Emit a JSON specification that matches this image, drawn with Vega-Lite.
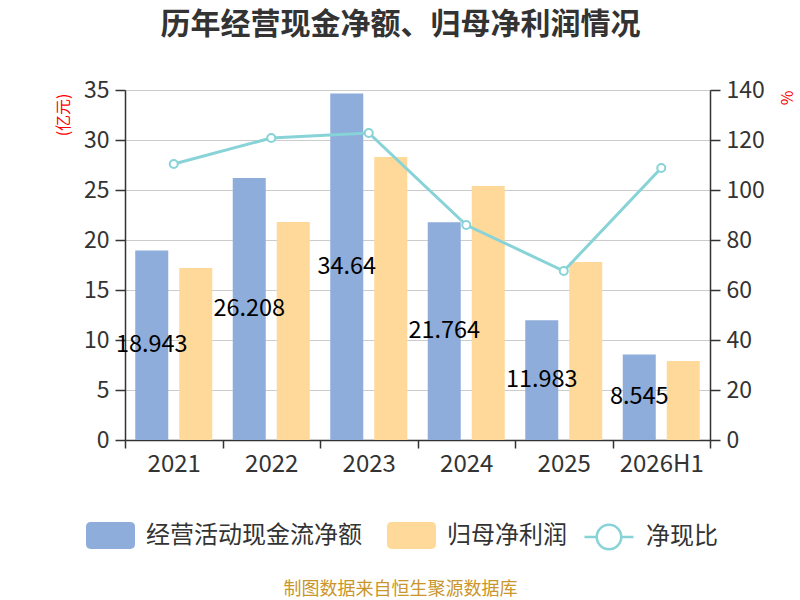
{
  "$schema": "https://vega.github.io/schema/vega-lite/v6.json",
  "autosize": {"type": "none"},
  "width": 585,
  "height": 350,
  "padding": {"left": 125, "top": 90, "right": 90, "bottom": 160},
  "background": "white",
  "config": {
    "font": "Noto Sans CJK SC",
    "view": {"stroke": null}
  },
  "title": {
    "text": "历年经营现金净额、归母净利润情况",
    "fontSize": 30,
    "fontWeight": "bold",
    "color": "#333333",
    "anchor": "middle",
    "frame": "group",
    "dx": -17,
    "offset": 39
  },
  "datasets": {
    "bars": [
      {"year": "2021", "series": "经营活动现金流净额", "value": 18.943},
      {"year": "2021", "series": "归母净利润", "value": 17.2},
      {"year": "2022", "series": "经营活动现金流净额", "value": 26.208},
      {"year": "2022", "series": "归母净利润", "value": 21.8},
      {"year": "2023", "series": "经营活动现金流净额", "value": 34.64},
      {"year": "2023", "series": "归母净利润", "value": 28.3},
      {"year": "2024", "series": "经营活动现金流净额", "value": 21.764},
      {"year": "2024", "series": "归母净利润", "value": 25.4},
      {"year": "2025", "series": "经营活动现金流净额", "value": 11.983},
      {"year": "2025", "series": "归母净利润", "value": 17.8},
      {"year": "2026H1", "series": "经营活动现金流净额", "value": 8.545},
      {"year": "2026H1", "series": "归母净利润", "value": 7.9}
    ],
    "ratio": [
      {"year": "2021", "ratio": 110.4},
      {"year": "2022", "ratio": 120.8},
      {"year": "2023", "ratio": 122.8},
      {"year": "2024", "ratio": 86.0},
      {"year": "2025", "ratio": 67.6},
      {"year": "2026H1", "ratio": 108.8}
    ]
  },
  "encoding": {
    "x": {
      "field": "year",
      "type": "nominal",
      "scale": {"domain": ["2021", "2022", "2023", "2024", "2025", "2026H1"], "paddingInner": 0, "paddingOuter": 0},
      "axis": {
        "labelAngle": 0,
        "labelFontSize": 24,
        "labelColor": "#333333",
        "labelPadding": 4,
        "domainColor": "#333333",
        "domainWidth": 1.5,
        "tickColor": "#333333",
        "tickWidth": 1.5,
        "tickSize": 8,
        "tickBand": "extent",
        "grid": false,
        "title": "制图数据来自恒生聚源数据库",
        "titleColor": "#C9962B",
        "titleFontSize": 18,
        "titleFontWeight": "normal",
        "titleX": 275,
        "titleY": 149,
        "titleAlign": "center",
        "titleBaseline": "middle"
      }
    }
  },
  "layer": [
    {
      "data": {"name": "bars"},
      "layer": [
        {
          "mark": {"type": "bar"},
          "encoding": {
            "xOffset": {
              "field": "series",
              "type": "nominal",
              "scale": {"domain": ["经营活动现金流净额", "归母净利润"], "paddingInner": 0.25, "paddingOuter": 0.233}
            },
            "y": {
              "field": "value",
              "type": "quantitative",
              "scale": {"domain": [0, 35], "nice": false},
              "axis": {
                "orient": "left",
                "values": [0, 5, 10, 15, 20, 25, 30, 35],
                "grid": true,
                "gridColor": "#cccccc",
                "gridWidth": 1,
                "domainColor": "#333333",
                "domainWidth": 1.5,
                "tickColor": "#333333",
                "tickWidth": 1.5,
                "tickSize": 10,
                "labelFontSize": 23,
                "labelColor": "#333333",
                "labelPadding": 6,
                "title": "(亿元)",
                "titleColor": "#ff0000",
                "titleFontSize": 16,
                "titleFontWeight": "normal",
                "titleAngle": -90,
                "titleX": -62,
                "titleY": 3,
                "titleAlign": "right",
                "titleBaseline": "middle"
              }
            },
            "color": {
              "field": "series",
              "type": "nominal",
              "scale": {"domain": ["经营活动现金流净额", "归母净利润"], "range": ["#8EADDB", "#FFD999"]},
              "legend": {
                "orient": "none",
                "legendX": -39,
                "legendY": 421,
                "direction": "horizontal",
                "title": null,
                "symbolType": "M-0.8,-0.55L0.8,-0.55Q1,-0.55 1,-0.35L1,0.35Q1,0.55 0.8,0.55L-0.8,0.55Q-1,0.55 -1,0.35L-1,-0.35Q-1,-0.55 -0.8,-0.55Z",
                "symbolSize": 2401,
                "symbolStrokeWidth": 0,
                "symbolOpacity": 1,
                "labelFontSize": 24,
                "labelColor": "#333333",
                "labelOffset": 11,
                "labelLimit": 400,
                "columnPadding": 25
              }
            }
          }
        },
        {
          "transform": [{"filter": "datum.series === '经营活动现金流净额'"}],
          "mark": {"type": "text", "fontSize": 23.5, "color": "#000000", "align": "center", "baseline": "middle"},
          "encoding": {
            "xOffset": {"field": "series", "type": "nominal"},
            "y": {
              "field": "value",
              "type": "quantitative",
              "scale": {"domain": [0, 70], "nice": false},
              "axis": null
            },
            "text": {"field": "value", "type": "nominal"}
          }
        }
      ],
      "resolve": {"scale": {"y": "independent"}}
    },
    {
      "data": {"name": "ratio"},
      "mark": {
        "type": "line",
        "strokeWidth": 3,
        "point": {"filled": false, "fill": "white", "size": 64, "strokeWidth": 2}
      },
      "encoding": {
        "y": {
          "field": "ratio",
          "type": "quantitative",
          "scale": {"domain": [0, 140], "nice": false},
          "axis": {
            "orient": "right",
            "values": [0, 20, 40, 60, 80, 100, 120, 140],
            "grid": false,
            "domainColor": "#333333",
            "domainWidth": 1.5,
            "tickColor": "#333333",
            "tickWidth": 1.5,
            "tickSize": 10,
            "labelFontSize": 23,
            "labelColor": "#333333",
            "labelPadding": 6,
            "title": "%",
            "titleColor": "#ff0000",
            "titleFontSize": 16,
            "titleFontWeight": "normal",
            "titleAngle": -90,
            "titleX": 77,
            "titleY": 0,
            "titleAlign": "right",
            "titleBaseline": "middle"
          }
        },
        "stroke": {
          "datum": "净现比",
          "type": "nominal",
          "scale": {"domain": ["净现比"], "range": ["#87D3D7"]},
          "legend": {
            "orient": "none",
            "legendX": 458,
            "legendY": 421,
            "direction": "horizontal",
            "title": null,
            "symbolType": "M-1,0L-0.5,0M0.5,0L1,0M-0.5,0A0.5,0.5 0 1,0 0.5,0A0.5,0.5 0 1,0 -0.5,0Z",
            "symbolSize": 2401,
            "symbolStrokeWidth": 2.5,
            "symbolFillColor": "white",
            "labelFontSize": 24,
            "labelColor": "#333333",
            "labelOffset": 11
          }
        }
      }
    }
  ],
  "resolve": {"scale": {"y": "independent"}}
}
